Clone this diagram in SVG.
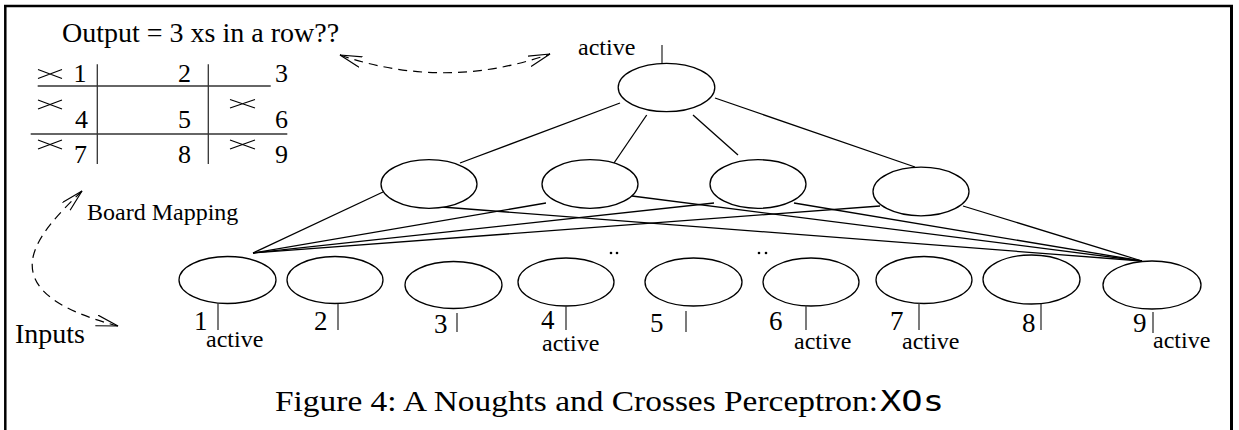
<svg xmlns="http://www.w3.org/2000/svg" width="1239" height="430" viewBox="0 0 1239 430">
<style>
  .t { font-family: "Liberation Serif", "Times New Roman", serif; fill: #000; }
  .n ellipse { fill: #fff; stroke: #000; stroke-width: 1.3; }
  .tick { stroke: #333; stroke-width: 1.3; }
  .c line { stroke: #000; stroke-width: 1.3; }
  .dash { fill: none; stroke: #000; stroke-width: 1.2; stroke-dasharray: 9 6; }
  .bd { stroke: #333; stroke-width: 1.3; fill: none; }
  .x { stroke: #000; stroke-width: 1.2; fill: none; }
  .dig { font-size: 27px; }
  .act { font-size: 24px; }
</style>
<defs>
  <marker id="oa" markerUnits="userSpaceOnUse" markerWidth="26" markerHeight="14" refX="22" refY="6" orient="auto-start-reverse" viewBox="0 0 26 14">
    <path d="M0,0.5 L22,6 L0,11.5" fill="none" stroke="#000" stroke-width="1.2"/>
  </marker>
</defs>
<rect width="1239" height="430" fill="#fff"/>
<!-- frame -->
<g id="frame" stroke="#000" fill="none">
  <line x1="4" y1="6" x2="1233" y2="6" stroke-width="2.5"/>
  <line x1="5.3" y1="5" x2="5.3" y2="430" stroke-width="2.5"/>
  <line x1="1231.5" y1="5" x2="1231.5" y2="430" stroke-width="3"/>
</g>

<!-- board -->
<g id="board">
  <text class="t" x="62" y="42" font-size="28">Output = 3 xs in a row??</text>
  <line class="bd" x1="37.7" y1="86" x2="270.7" y2="86"/>
  <line class="bd" x1="30.7" y1="134" x2="287.3" y2="134"/>
  <line class="bd" x1="97.3" y1="64.3" x2="97.3" y2="164"/>
  <line class="bd" x1="208.3" y1="64.3" x2="208.3" y2="164"/>
  <path class="x" d="M38,69.5 L62,78.5 M38,78.5 L62,69.5"/>
  <path class="x" d="M38,100 L62,109 M38,109 L62,100"/>
  <path class="x" d="M230,99.5 L255,108 M230,108 L255,99.5"/>
  <path class="x" d="M38,140 L62,149 M38,149 L62,140"/>
  <path class="x" d="M230,140 L255,149 M230,149 L255,140"/>
  <g class="t" font-size="26" text-anchor="end">
    <text x="86.5" y="82">1</text>
    <text x="191" y="82">2</text>
    <text x="288" y="82">3</text>
    <text x="88" y="128">4</text>
    <text x="191" y="128">5</text>
    <text x="288" y="128">6</text>
    <text x="87" y="163">7</text>
    <text x="191" y="163">8</text>
    <text x="288" y="163">9</text>
  </g>
</g>

<!-- dashed mapping arrows -->
<g id="mapping">
  <path class="dash" d="M340,55 Q445,91 550,54" marker-start="url(#oa)" marker-end="url(#oa)"/>
  <path class="dash" d="M82,191 C40,232 -20,290 118,326" marker-start="url(#oa)" marker-end="url(#oa)"/>
  <text class="t" x="87" y="220" font-size="24">Board Mapping</text>
  <text class="t" x="15" y="342.5" font-size="28">Inputs</text>
</g>

<!-- connectors -->
<g id="connectors" class="c">
  <line x1="620" y1="103" x2="460" y2="163"/>
  <line x1="646.7" y1="115" x2="614" y2="163"/>
  <line x1="693" y1="115" x2="738" y2="155"/>
  <line x1="715" y1="98" x2="915" y2="167"/>
  <line x1="253" y1="253" x2="383" y2="192"/>
  <line x1="253" y1="253" x2="546" y2="203"/>
  <line x1="253" y1="253" x2="714" y2="203"/>
  <line x1="253" y1="253" x2="880" y2="206"/>
  <line x1="429" y1="206" x2="1142" y2="261"/>
  <line x1="632" y1="196" x2="1142" y2="261"/>
  <line x1="794" y1="203" x2="1142" y2="261"/>
  <line x1="963" y1="206" x2="1142" y2="261"/>
</g>

<!-- output node -->
<g id="output" class="n">
  <ellipse cx="666.5" cy="87.5" rx="48.3" ry="24.2"/>
  <line class="tick" x1="662" y1="45" x2="662" y2="63"/>
  <text class="t act" x="578" y="55">active</text>
</g>

<!-- hidden nodes -->
<g id="hidden1" class="n"><ellipse cx="429" cy="184" rx="48" ry="24.3"/></g>
<g id="hidden2" class="n"><ellipse cx="590" cy="184" rx="48" ry="24.3"/></g>
<g id="hidden3" class="n"><ellipse cx="758" cy="184" rx="48" ry="24.3"/></g>
<g id="hidden4" class="n"><ellipse cx="921" cy="191.5" rx="48" ry="24.3"/></g>

<!-- input nodes -->
<g id="in1" class="n">
  <ellipse cx="227.5" cy="280" rx="48.5" ry="23.5"/>
  <line class="tick" x1="218" y1="303" x2="218" y2="330"/>
  <text class="t dig" x="194" y="330">1</text>
  <text class="t act" x="206" y="347">active</text>
</g>
<g id="in2" class="n">
  <ellipse cx="335" cy="280" rx="48" ry="23.5"/>
  <line class="tick" x1="338" y1="304" x2="338" y2="330"/>
  <text class="t dig" x="314" y="330">2</text>
</g>
<g id="in3" class="n">
  <ellipse cx="453.5" cy="285" rx="48.5" ry="23.5"/>
  <line class="tick" x1="457" y1="313" x2="457" y2="332"/>
  <text class="t dig" x="434" y="333">3</text>
</g>
<g id="in4" class="n">
  <ellipse cx="566" cy="282" rx="48" ry="24"/>
  <line class="tick" x1="566" y1="305" x2="566" y2="330"/>
  <text class="t dig" x="541" y="329">4</text>
  <text class="t act" x="542" y="351">active</text>
</g>
<g id="in5" class="n">
  <ellipse cx="693.5" cy="282" rx="48.5" ry="24"/>
  <line class="tick" x1="686" y1="311" x2="686" y2="332"/>
  <text class="t dig" x="650" y="332">5</text>
</g>
<g id="in6" class="n">
  <ellipse cx="811" cy="282" rx="48" ry="24"/>
  <line class="tick" x1="806" y1="305" x2="806" y2="330"/>
  <text class="t dig" x="769" y="330">6</text>
  <text class="t act" x="794" y="349">active</text>
</g>
<g id="in7" class="n">
  <ellipse cx="924" cy="280" rx="48" ry="23.5"/>
  <line class="tick" x1="919" y1="303" x2="919" y2="330"/>
  <text class="t dig" x="890" y="330">7</text>
  <text class="t act" x="902" y="349">active</text>
</g>
<g id="in8" class="n">
  <ellipse cx="1031.5" cy="279.5" rx="48.5" ry="24.5"/>
  <line class="tick" x1="1041" y1="304" x2="1041" y2="330"/>
  <text class="t dig" x="1022" y="332">8</text>
</g>
<g id="in9" class="n">
  <ellipse cx="1152" cy="285" rx="49" ry="24"/>
  <line class="tick" x1="1153" y1="312" x2="1153" y2="333"/>
  <text class="t dig" x="1133" y="332">9</text>
  <text class="t act" x="1153" y="348">active</text>
</g>

<!-- ellipsis dots -->
<g id="dots" fill="#000">
  <circle cx="611" cy="253" r="1.3"/>
  <circle cx="617" cy="253" r="1.3"/>
  <circle cx="759" cy="253" r="1.3"/>
  <circle cx="766" cy="253" r="1.3"/>
</g>

<!-- caption -->
<g id="caption">
  <text class="t" x="275" y="411" font-size="29" textLength="603" lengthAdjust="spacingAndGlyphs">Figure 4: A Noughts and Crosses Perceptron:</text>
  <text x="880" y="411" font-family="'DejaVu Sans Mono', 'Liberation Mono', monospace" font-size="28" textLength="64" lengthAdjust="spacingAndGlyphs">XOs</text>
</g>
</svg>
